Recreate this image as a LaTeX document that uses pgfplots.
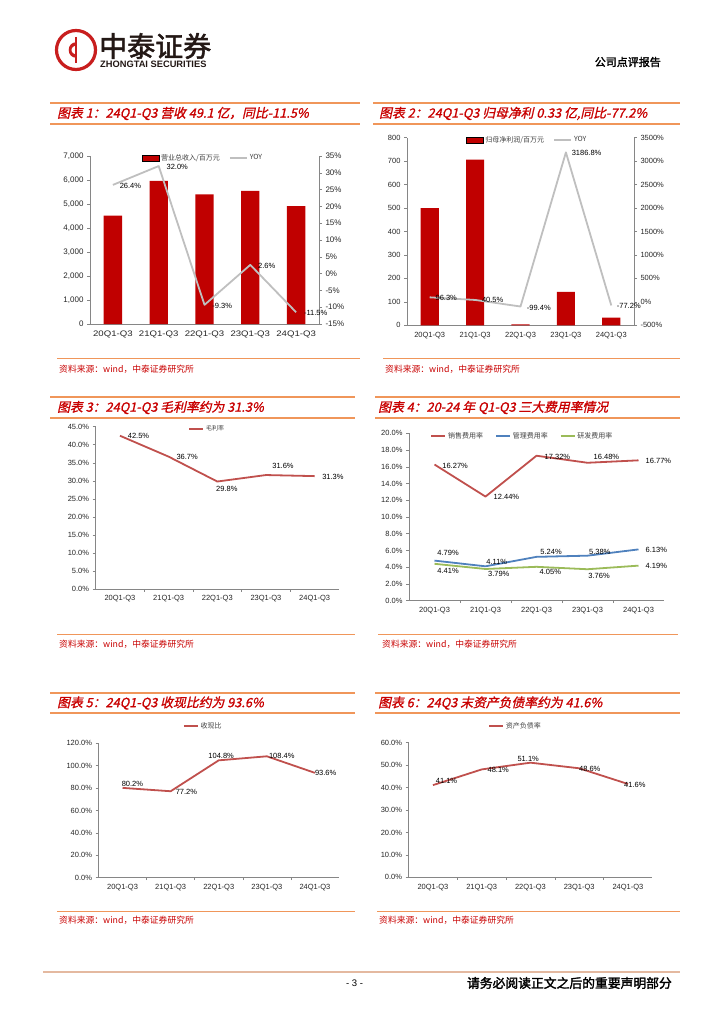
\documentclass[border=0pt]{standalone}
\usepackage{pgfplots}
\pgfplotsset{compat=1.18}
\usepackage{fontspec}
\setmainfont{Liberation Sans}
\newfontfamily\cjk{Noto Sans CJK SC}
\newfontfamily\cjkit{Noto Sans CJK SC}[FakeSlant=0.22,FakeBold=1.2]
\newfontfamily\cjkb{Noto Sans CJK SC}[FakeBold=2]
\definecolor{barred}{RGB}{192,0,0}
\definecolor{linered}{RGB}{192,80,77}
\definecolor{lineblue}{RGB}{79,129,189}
\definecolor{linegreen}{RGB}{155,187,89}
\definecolor{yoygray}{RGB}{191,191,191}
\definecolor{axgray}{RGB}{134,134,134}
\definecolor{titlered}{RGB}{200,0,0}
\definecolor{barorange}{RGB}{240,150,90}
\definecolor{footline}{RGB}{228,185,160}
\definecolor{logored}{RGB}{200,30,30}
\definecolor{logodark}{RGB}{35,24,21}
\pgfplotsset{
 base/.style={
  scale only axis, clip=false, anchor=south west,
  axis line style={axgray, line width=0.6pt},
  tick style={axgray, line width=0.5pt},
  major tick length=3pt, minor tick length=2.5pt, tick align=outside,
  tick label style={font=\fontsize{7.5}{8}\selectfont, text=black!85},
  /pgf/number format/assume math mode=true,
  legend cell align=left,
 },
 cat/.style={
  xmin=-0.5, xmax=4.5, xtick={0,...,4},
  xticklabels={20Q1-Q3,21Q1-Q3,22Q1-Q3,23Q1-Q3,24Q1-Q3},
  every major x tick/.append style={draw=none},
 },
 lcat/.style={base, cat, axis x line*=bottom, axis y line*=left,
  minor xtick={0.5,1.5,2.5,3.5},
  yticklabel={\pgfmathprintnumber[fixed,fixed zerofill,precision=1]{\tick}\%},
 },
 lab/.style={point meta=explicit,
  nodes near coords={\pgfmathprintnumber[fixed,fixed zerofill,precision=#1,1000 sep={}]{\pgfplotspointmeta}\%},
  visualization depends on={\thisrow{dx}\as\dx},
  visualization depends on={\thisrow{dy}\as\dy},
  every node near coord/.append style={anchor=west, xshift=\dx pt, yshift=\dy pt, text=black, font=\fontsize{7.5}{8}\selectfont, inner sep=0pt},
 },
 leg/.style={legend style={draw=none, fill=none, inner sep=0pt, font=\cjk\fontsize{7}{8}\selectfont, text=black!75,
   /tikz/every even column/.append style={column sep=7pt}}},
 shortline/.style={legend image code/.code={\draw[##1, line width=1.6pt] (0pt,0pt) -- (14pt,0pt);}},
}
\begin{document}
\begin{tikzpicture}
\path[use as bounding box] (0pt,0pt) rectangle (724pt,-1024pt);

% ---------- Chart 1 ----------
\begin{axis}[base, cat, at={(90pt,-324pt)}, width=229pt, height=168pt,
  axis x line*=bottom, axis y line*=left,
  tick label style={font=\fontsize{8}{9}\selectfont},
  x tick label style={xscale=1.2},
  ymin=0, ymax=7000, ytick={0,1000,...,7000},
  /pgf/number format/1000 sep={,},
  ybar, bar width=0.4]
\addplot[fill=barred, draw=none] coordinates {(0,4515) (1,5960) (2,5405) (3,5545) (4,4910)};
\end{axis}
\begin{axis}[base, cat, at={(90pt,-324pt)}, width=229pt, height=168pt,
  axis x line=none, axis y line*=right,
  tick label style={font=\fontsize{8}{9}\selectfont},
  ymin=-15, ymax=35, ytick={-15,-10,...,35},
  yticklabel={\pgfmathprintnumber{\tick}\%},
  leg, legend columns=2,
  legend style={at={(axis description cs:0.225,0.988)}, anchor=west}]
\addlegendimage{area legend, fill=barred, draw=none}
\addlegendentry{营业总收入/百万元}
\addplot[yoygray, line width=1.8pt, line join=round, mark=none, lab=1] table[x=x,y=y,meta=y] {
x y dx dy
0 26.4 6 -0.8
1 32.0 7 -0.6
2 -9.3 7 -1.2
3 2.6 7 -1
4 -11.5 7 -1
};
\addlegendentry{YOY}
\end{axis}

% ---------- Chart 2 ----------
\begin{axis}[base, cat, at={(407pt,-325.3pt)}, width=227pt, height=187.6pt,
  axis x line*=bottom, axis y line*=left,
  ymin=0, ymax=800, ytick={0,100,...,800},
  ybar, bar width=0.4]
\addplot[fill=barred, draw=none] coordinates {(0,500) (1,706) (2,4.3) (3,143) (4,33)};
\end{axis}
\begin{axis}[base, cat, at={(407pt,-325.3pt)}, width=227pt, height=187.6pt,
  axis x line=none, axis y line*=right,
  ymin=-500, ymax=3500, ytick={-500,0,...,3500},
  /pgf/number format/1000 sep={},
  yticklabel={\pgfmathprintnumber{\tick}\%},
  leg, legend columns=2,
  legend style={at={(axis description cs:0.259,0.988)}, anchor=west}]
\addlegendimage{area legend, fill=barred, draw=none}
\addlegendentry{归母净利润/百万元}
\addplot[yoygray, line width=1.8pt, line join=round, mark=none, lab=1] table[x=x,y=y,meta=y] {
x y dx dy
0 96.3 5 -0.5
1 40.5 6 -0.3
2 -99.4 5.5 -1.3
3 3186.8 5 -0.3
4 -77.2 4.7 -0.3
};
\addlegendentry{YOY}
\end{axis}

% ---------- Chart 3 ----------
\begin{axis}[lcat, at={(95.6pt,-589pt)}, width=243.4pt, height=162.3pt,
  ymin=0, ymax=45, ytick={0,5,...,45},
  leg, shortline, legend style={at={(axis description cs:0.381,0.986)}, anchor=west, font=\cjk\fontsize{6}{7}\selectfont}]
\addplot[linered, line width=1.8pt, line join=round, mark=none, lab=1] table[x=x,y=y,meta=y] {
x y dx dy
0 42.5 7 0
1 36.7 7 0
2 29.8 -2 -7.5
3 31.6 5.5 9
4 31.3 6.7 -1
};
\addlegendentry{毛利率}
\end{axis}

% ---------- Chart 4 ----------
\begin{axis}[lcat, at={(409pt,-600.7pt)}, width=255pt, height=167.4pt,
  ymin=0, ymax=20, ytick={0,2,...,20},
  leg, shortline, legend columns=3,
  legend style={at={(axis description cs:0.084,0.984)}, anchor=west,
   /tikz/every even column/.append style={column sep=10pt}}]
\addplot[linered, line width=1.8pt, line join=round, mark=none, lab=2] table[x=x,y=y,meta=y] {
x y dx dy
0 16.27 7 -1.5
1 12.44 7.3 -0.7
2 17.32 7.3 -1
3 16.48 5.3 5.8
4 16.77 6.3 -0.7
};
\addlegendentry{销售费用率}
\addplot[lineblue, line width=1.8pt, line join=round, mark=none, lab=2] table[x=x,y=y,meta=y] {
x y dx dy
0 4.79 2 8
1 4.11 0 4.6
2 5.24 3 4.5
3 5.38 0.7 3.4
4 6.13 6.3 -0.6
};
\addlegendentry{管理费用率}
\addplot[linegreen, line width=1.8pt, line join=round, mark=none, lab=2] table[x=x,y=y,meta=y] {
x y dx dy
0 4.41 2 -7.2
1 3.79 1.7 -5.3
2 4.05 2.3 -4.9
3 3.76 0 -6.8
4 4.19 6.3 -0.4
};
\addlegendentry{研发费用率}
\end{axis}

% ---------- Chart 5 ----------
\begin{axis}[lcat, at={(98.5pt,-877.7pt)}, width=240.5pt, height=134.4pt,
  ymin=0, ymax=120, ytick={0,20,...,120},
  leg, shortline, legend style={at={(axis description cs:0.351,1.129)}, anchor=west}]
\addplot[linered, line width=1.8pt, line join=round, mark=none, lab=1] table[x=x,y=y,meta=y] {
x y dx dy
0 80.2 -1.7 3.6
1 77.2 4.2 -0.5
2 104.8 -11.2 4.3
3 108.4 1.3 0.3
4 93.6 -0.8 -0.4
};
\addlegendentry{收现比}
\end{axis}

% ---------- Chart 6 ----------
\begin{axis}[lcat, at={(408.6pt,-877.3pt)}, width=243.75pt, height=134.6pt,
  ymin=0, ymax=60, ytick={0,10,...,60},
  leg, shortline, legend style={at={(axis description cs:0.326,1.124)}, anchor=west}]
\addplot[linered, line width=1.8pt, line join=round, mark=none, lab=1] table[x=x,y=y,meta=y] {
x y dx dy
0 41.1 2 4.4
1 48.1 5 -0.6
2 51.1 -13.8 3.7
3 48.6 -1 -0.7
4 41.6 -4.7 -1
};
\addlegendentry{资产负债率}
\end{axis}

% ---------- page decorations ----------
\begin{scope}[x=1pt, y=-1pt]
 % logo
 \draw[logored, line width=3.2pt] (76,50) circle (19.5);
 \draw[logored, line width=2.4pt] (76,37) -- (76,63);
 \draw[logored, line width=2.4pt] (76,44.5) arc[start angle=90, end angle=-90, radius=-6];
 \draw[logored, line width=2.4pt] (76,55.5) arc[start angle=-90, end angle=90, radius=-6];
 \node[anchor=west, inner sep=0pt, font=\cjkb\fontsize{28}{28}\selectfont, text=logodark] at (99,46) {中泰证券};
 \node[anchor=west, inner sep=0pt, font=\bfseries\fontsize{9.3}{10}\selectfont, text=logodark] at (100,64.5) {ZHONGTAI SECURITIES};
 \node[anchor=east, inner sep=0pt, font=\cjkb\fontsize{11}{11}\selectfont] at (661,62) {公司点评报告};
 % title bars
 \foreach \a/\b/\ya/\yb in {50/360/103/124, 373/680/103/124, 50/355/397/418, 375/680/397/418, 50/355/693/713, 375/680/693/713}{
   \draw[barorange, line width=1.4pt] (\a,\ya) -- (\b,\ya);
   \draw[barorange, line width=1.4pt] (\a,\yb) -- (\b,\yb);
 }
 \begin{scope}[every node/.style={anchor=west, inner sep=0pt, font=\cjkit\fontsize{12.8}{13}\selectfont, text=titlered}]
 \node at (57,113.5) {图表 1：24Q1-Q3 营收 49.1 亿，同比-11.5\%};
 \node at (379,113.5) {图表 2：24Q1-Q3 归母净利 0.33 亿,同比-77.2\%};
 \node at (57,407.5) {图表 3：24Q1-Q3 毛利率约为 31.3\%};
 \node at (378,407.5) {图表 4：20-24 年 Q1-Q3 三大费用率情况};
 \node at (57,703) {图表 5：24Q1-Q3 收现比约为 93.6\%};
 \node at (378,703) {图表 6：24Q3 末资产负债率约为 41.6\%};
 \end{scope}
 % source lines
 \foreach \a/\b/\y in {57/360/358, 383/680/358, 57/355/634, 378/678/634, 57/355/911, 377/680/911}{
   \draw[barorange, line width=1pt] (\a,\y) -- (\b,\y);
 }
 \begin{scope}[every node/.style={anchor=west, inner sep=0pt, font=\cjk\fontsize{8.8}{9}\selectfont, text=titlered}]
 \node at (59,369) {资料来源：wind，中泰证券研究所};
 \node at (385,369) {资料来源：wind，中泰证券研究所};
 \node at (59,644) {资料来源：wind，中泰证券研究所};
 \node at (382,644) {资料来源：wind，中泰证券研究所};
 \node at (59,920) {资料来源：wind，中泰证券研究所};
 \node at (379,920) {资料来源：wind，中泰证券研究所};
 \end{scope}
 % footer
 \draw[footline, line width=2.2pt] (43,972) -- (680,972);
 \node[inner sep=0pt, font=\fontsize{9.5}{10}\selectfont] at (354.5,983) {- 3 -};
 \node[anchor=east, inner sep=0pt, font=\cjkb\fontsize{12.8}{13}\selectfont] at (672,983) {请务必阅读正文之后的重要声明部分};
\end{scope}
\end{tikzpicture}
\end{document}
